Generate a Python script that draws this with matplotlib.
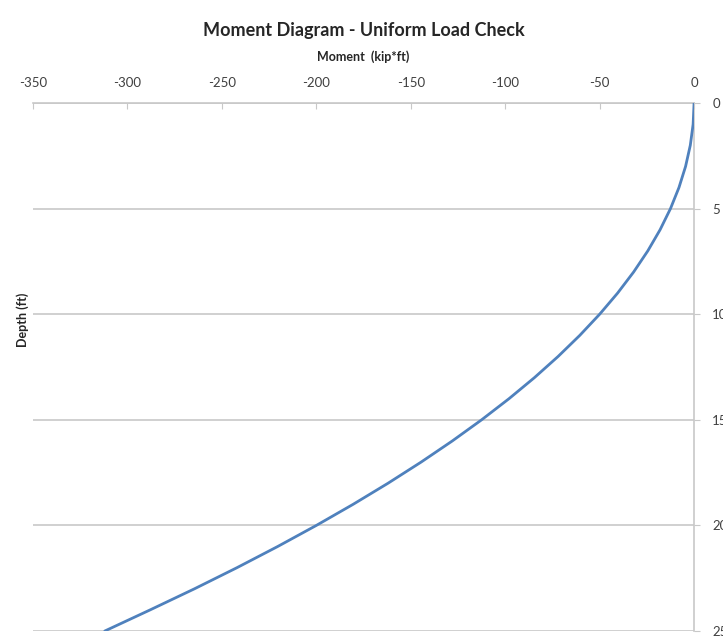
import matplotlib
matplotlib.use("Agg")
import matplotlib.pyplot as plt

# Depth (ft) and bending moment (kip*ft) along the member
depth = [0, 1, 2, 3, 4, 5, 6, 7, 8, 9, 10, 11, 12, 13, 14, 15, 16, 17, 18,
         19, 20, 21, 22, 23, 24, 25]
moment = [0, -0.5, -2, -4.5, -8, -12.5, -18, -24.5, -32, -40.5, -50, -60.5,
          -72, -84.5, -98, -112.5, -128, -144.5, -162, -180.5, -200, -220.5,
          -242, -264.5, -288, -312]

x_ticks = [-350, -300, -250, -200, -150, -100, -50, 0]
y_ticks = [0, 5, 10, 15, 20, 25]

plt.rcParams['font.family'] = ['Lato', 'DejaVu Sans']

fig = plt.figure(figsize=(7.23, 6.4), dpi=100)
ax = fig.add_axes([0.0456, 0.014, 0.9144, 0.825])

grid_c = '#c8c8c8'
text_c = '#404040'

ax.plot(moment, depth, color='#4f81bd', lw=2.0, solid_capstyle='round',
        zorder=3)

ax.set_xlim(-350, 0)
ax.set_ylim(25, 0)
ax.set_xticks(x_ticks)
ax.set_yticks(y_ticks)
ax.set_xticklabels([str(v) for v in x_ticks])
ax.set_yticklabels([str(v) for v in y_ticks])

ax.xaxis.tick_top()
ax.xaxis.set_label_position('top')
ax.yaxis.tick_right()

for s in ['left', 'bottom']:
    ax.spines[s].set_visible(False)
for s in ['top', 'right']:
    ax.spines[s].set_color(grid_c)
    ax.spines[s].set_linewidth(1.2)

ax.yaxis.grid(True, color=grid_c, lw=1.2)
ax.set_axisbelow(True)

ax.tick_params(axis='x', direction='in', length=4, color=grid_c,
               labelcolor=text_c, labelsize=9.5, pad=10)
ax.tick_params(axis='y', direction='out', length=4, color=grid_c,
               labelcolor=text_c, labelsize=9.5, pad=9)

ax.set_xlabel('Moment  (kip*ft)', fontsize=9, fontweight='bold',
              color='#262626', labelpad=12)
fig.text(0.031, 0.5, 'Depth (ft)', rotation=90, fontsize=9,
         fontweight='bold', color='#262626', ha='center', va='center')
fig.text(0.503, 0.952, 'Moment Diagram - Uniform Load Check', fontsize=13,
         fontweight='bold', color='#262626', ha='center', va='center')

fig.savefig('out.png', dpi=100)
